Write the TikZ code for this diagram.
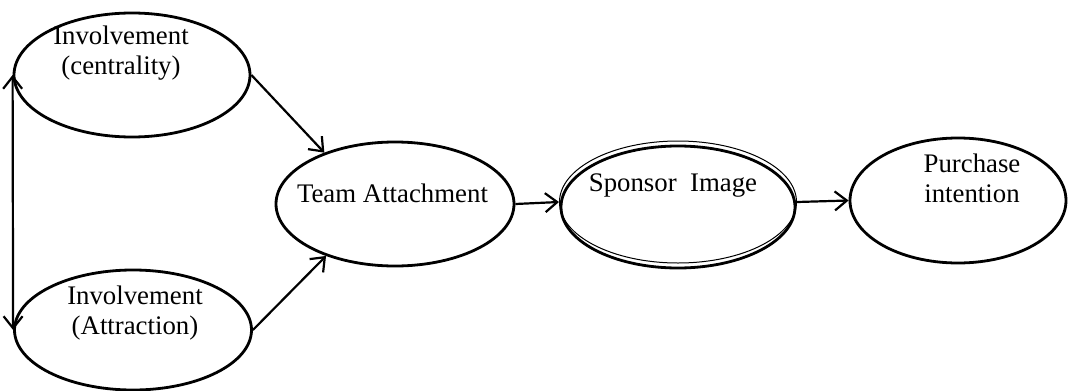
\documentclass[tikz,border=0pt]{standalone}
\usepackage{fontspec}
\setmainfont{Liberation Serif}
\usetikzlibrary{shapes.geometric,arrows.meta}
\begin{document}
\begin{tikzpicture}[x=1pt,y=-1pt,
  oval/.style={ellipse,draw,line width=2.8pt,inner sep=0pt},
  lbl/.style={font=\fontsize{26.8}{30}\selectfont,align=center,inner sep=0pt},
  link/.style={line width=2.2pt,-{Straight Barb[length=12pt,width=19pt]}}]
\useasboundingbox (0,0) rectangle (1077,391);
% constructs
\node[oval,minimum width=236pt,minimum height=124pt] (e1) at (132,75) {};
\node[oval,minimum width=237pt,minimum height=120pt] (e2) at (133,330) {};
\node[oval,minimum width=238pt,minimum height=124pt] (ta) at (395,204) {};
\node[oval,minimum width=234pt,minimum height=122pt] (si) at (678,207) {};
\node[ellipse,draw,line width=1pt,inner sep=0pt,minimum width=237pt,minimum height=122pt] (si2) at (678,202) {};
\node[oval,minimum width=216pt,minimum height=125pt] (pi) at (958,200.5) {};
% labels
\node[lbl] (t1) at (121,53) {Involvement\\(centrality)};
\node[lbl] (t2) at (135,313) {Involvement\\(Attraction)};
\node[lbl] (t3) at (392.5,193) {Team Attachment};
\node[lbl] (t4) at (673,186) {Sponsor\ \ Image};
\node[lbl] (t5) at (972,178) {Purchase\\intention};
% paths
\draw[line width=2.2pt,{Straight Barb[length=12pt,width=19pt]}-{Straight Barb[length=12pt,width=19pt]}] (e1.west) -- (e2.west);
\draw[link] (e1.east) -- (ta.144);
\draw[link] (e2.east) -- (ta.217);
\draw[link] (ta.east) -- (si2.west);
\draw[link] (si2.east) -- (pi.west);
\end{tikzpicture}
\end{document}
